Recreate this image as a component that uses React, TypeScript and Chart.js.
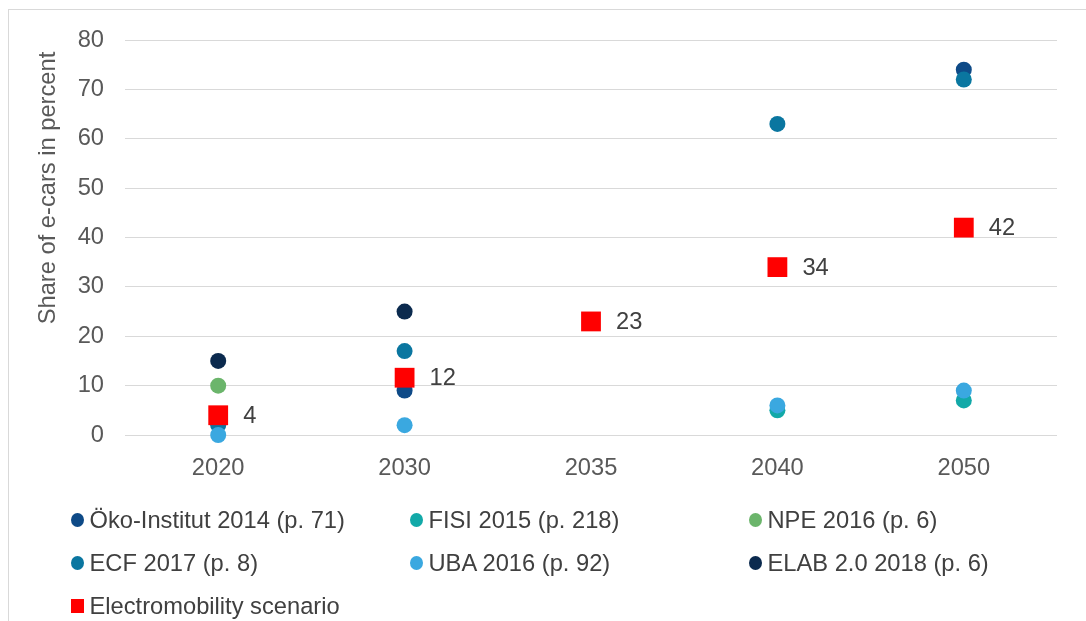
import React, { useEffect, useRef } from "react";
import { Chart, registerables } from "chart.js";

Chart.register(...registerables);

const categories = ["2020", "2030", "2035", "2040", "2050"];
const okoInstitut = [null, 9, null, null, 74];
const fisi = [null, null, null, 5, 7];
const npe = [10, null, null, null, null];
const ecf = [2, 17, null, 63, 72];
const uba = [0, 2, null, 6, 9];
const elab = [15, 25, null, null, null];
const electromobility = [4, 11.6, 23, 34, 42];
const electromobilityLabels = ["4", "12", "23", "34", "42"];
const yMin = 0;
const yMax = 80;
const yStep = 10;
const yTitle = "Share of e-cars in percent";

const seriesNames = [
  "Öko-Institut 2014 (p. 71)",
  "FISI 2015 (p. 218)",
  "NPE 2016 (p. 6)",
  "ECF 2017 (p. 8)",
  "UBA 2016 (p. 92)",
  "ELAB 2.0 2018 (p. 6)",
  "Electromobility scenario",
];
const seriesColors = ["#0E4A87", "#12A9A8", "#6BB56B", "#0A76A0", "#3AA8E0", "#0B2A4E", "#FF0000"];
const seriesData = [okoInstitut, fisi, npe, ecf, uba, elab, electromobility];
// draw order: lower = on top
const seriesOrder = [6, 5, 4, 3, 2, 1, 0];

const FONT = "'Liberation Sans', Arial, sans-serif";
const FS = 23.7;

const labelPlugin = {
  id: "customLabels",
  afterDatasetsDraw(chart: any) {
    const ctx = chart.ctx;
    const meta = chart.getDatasetMeta(6);
    ctx.save();
    ctx.font = `${FS}px ${FONT}`;
    ctx.fillStyle = "#404040";
    ctx.textAlign = "left";
    ctx.textBaseline = "middle";
    meta.data.forEach((pt: any, i: number) => {
      ctx.fillText(electromobilityLabels[i], pt.x + 25, pt.y + 1);
    });
    ctx.restore();
    ctx.save();
    ctx.font = `${FS}px ${FONT}`;
    ctx.fillStyle = "#595959";
    ctx.textAlign = "center";
    ctx.textBaseline = "middle";
    ctx.translate(48, 188);
    ctx.rotate(-Math.PI / 2);
    ctx.fillText(yTitle, 0, 0);
    ctx.restore();
  },
};

export default function App() {
  const canvasRef = useRef<HTMLCanvasElement | null>(null);

  useEffect(() => {
    if (!canvasRef.current) return;
    const chart = new Chart(canvasRef.current, {
      type: "line",
      data: {
        labels: categories,
        datasets: seriesNames.map((name, i) => {
          const isRect = i === 6;
          return {
            label: name,
            data: seriesData[i],
            order: seriesOrder[i],
            showLine: false,
            clip: false,
            backgroundColor: seriesColors[i],
            borderColor: seriesColors[i],
            pointBackgroundColor: seriesColors[i],
            pointBorderWidth: 0,
            pointStyle: isRect ? "rect" : "circle",
            pointRadius: isRect ? 14 : 8,
            pointHoverRadius: isRect ? 14 : 8,
          } as any;
        }),
      },
      options: {
        responsive: false,
        animation: false,
        devicePixelRatio: 1,
        layout: { padding: { left: 0, right: 29, top: 40, bottom: 0 } },
        plugins: {
          legend: { display: false },
          tooltip: { enabled: false },
          title: { display: false },
        },
        scales: {
          x: {
            type: "category",
            offset: true,
            grid: { display: false, drawTicks: false },
            border: { display: false },
            ticks: { color: "#595959", font: { family: FONT, size: FS }, padding: 19 },
            afterFit: (s: any) => {
              s.height = 45;
            },
          },
          y: {
            min: yMin,
            max: yMax,
            grid: { color: "#D9D9D9", lineWidth: 1, drawTicks: false },
            border: { display: false },
            ticks: {
              stepSize: yStep,
              color: "#595959",
              font: { family: FONT, size: FS },
              padding: 21,
            },
            afterFit: (s: any) => {
              s.width = 125;
            },
          },
        },
      } as any,
      plugins: [labelPlugin],
    });
    return () => chart.destroy();
  }, []);

  const colLeft = [77, 416, 755];
  const rowCenter = [520, 563, 606];

  return (
    <div>
      <div
        style={{
          position: "fixed",
          left: 8,
          top: 9,
          right: 0,
          bottom: 0,
          borderLeft: "1px solid #D9D9D9",
          borderTop: "1px solid #D9D9D9",
        }}
      />
      <canvas
        ref={canvasRef}
        width={1086}
        height={480}
        style={{ position: "fixed", left: 0, top: 0, width: 1086, height: 480 }}
      />
      {seriesNames.map((name, i) => {
        const cx = colLeft[i % 3];
        const cy = rowCenter[Math.floor(i / 3)];
        const isRect = i === 6;
        return (
          <div key={name}>
            <div
              style={{
                position: "fixed",
                left: cx - 6.5,
                top: cy - 7,
                width: 13,
                height: 14,
                borderRadius: isRect ? 0 : "50%",
                background: seriesColors[i],
              }}
            />
            <div
              style={{
                position: "fixed",
                left: cx + 12.5,
                top: cy - 14,
                height: 28,
                lineHeight: "28px",
                fontFamily: FONT,
                fontSize: FS,
                color: "#404040",
                whiteSpace: "nowrap",
              }}
            >
              {name}
            </div>
          </div>
        );
      })}
    </div>
  );
}
